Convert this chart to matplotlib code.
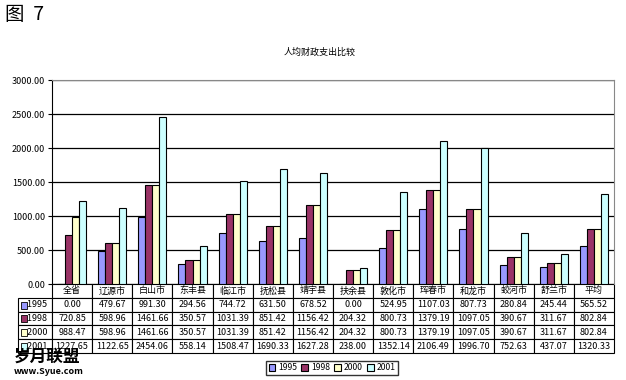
import numpy as np
import matplotlib.pyplot as plt
from matplotlib.patches import Rectangle

plt.rcParams['font.family'] = ['Noto Sans CJK SC', 'DejaVu Sans']

regions = ['全省', '辽源市', '白山市', '东丰县', '临江市', '抚松县', '靖宇县',
           '扶余县', '敦化市', '珲春市', '和龙市', '蛟河市', '舒兰市', '平均']
years = ['1995', '1998', '2000', '2001']
v1995 = [0.00, 479.67, 991.30, 294.56, 744.72, 631.50, 678.52,
         0.00, 524.95, 1107.03, 807.73, 280.84, 245.44, 565.52]
v1998 = [720.85, 598.96, 1461.66, 350.57, 1031.39, 851.42, 1156.42,
         204.32, 800.73, 1379.19, 1097.05, 390.67, 311.67, 802.84]
v2000 = [988.47, 598.96, 1461.66, 350.57, 1031.39, 851.42, 1156.42,
         204.32, 800.73, 1379.19, 1097.05, 390.67, 311.67, 802.84]
v2001 = [1227.65, 1122.65, 2454.06, 558.14, 1508.47, 1690.33, 1627.28,
         238.00, 1352.14, 2106.49, 1996.70, 752.63, 437.07, 1320.33]
series = [v1995, v1998, v2000, v2001]
colors = ['#9999FF', '#993366', '#FFFFCC', '#CCFFFF']

W, H = 626, 380
fig = plt.figure(figsize=(W / 100, H / 100), dpi=100)
ax = fig.add_axes([52 / W, 1 - 284 / H, 562 / W, 204 / H])

x = np.arange(len(regions))
bw = 0.175
for i, (vals, c) in enumerate(zip(series, colors)):
    ax.bar(x + (i - 1.5) * bw, vals, bw, color=c, edgecolor='black',
           linewidth=0.8, label=years[i], zorder=3)

ax.set_xlim(-0.5, len(regions) - 0.5)
ax.set_ylim(0, 3000)
ax.set_yticks(np.arange(0, 3001, 500))
ax.set_yticklabels([f'{t:.2f}' for t in np.arange(0, 3001, 500)], fontsize=6.5)
ax.set_xticks([])
ax.tick_params(axis='y', length=3, width=0.8, pad=2)
ax.grid(axis='y', color='black', linewidth=0.9, zorder=0)
ax.spines['top'].set_color('#888888')
ax.spines['right'].set_color('#888888')
ax.spines['left'].set_color('black')
ax.spines['bottom'].set_visible(False)

# data table under the chart (first column holds the year labels)
lab_w = 34 / 562
cell_text = [['    ' + y] + [f'{v:.2f}' for v in vals]
             for y, vals in zip(years, series)]
tbl = ax.table(cellText=cell_text, colLabels=[''] + regions,
               colWidths=[lab_w] + [1 / 14] * 14, cellLoc='center',
               bbox=[-lab_w, -69 / 204, 1 + lab_w, 69 / 204])
tbl.auto_set_font_size(False)
tbl.set_fontsize(6.5)
for (r, c), cell in tbl.get_celld().items():
    cell.set_linewidth(0.8)
    if c == 0:
        cell.PAD = 0.02
        cell._loc = 'left'
        cell.get_text().set_ha('left')
    if r == 0 and c == 0:
        cell.visible_edges = 'open'

# colour keys in the row label cells
for i, c in enumerate(colors):
    yc = 1 - (298 + 13.75 * i + 7) / H
    fig.patches.append(Rectangle((21 / W, yc - 3.5 / H), 6 / W, 7 / H,
                                 transform=fig.transFigure, facecolor=c,
                                 edgecolor='black', linewidth=0.6))

fig.legend(loc='center', bbox_to_anchor=(332 / W, 1 - 368 / H), ncol=4,
           fontsize=6.2, frameon=True, fancybox=False, edgecolor='black',
           handlelength=0.8, handleheight=0.8, handletextpad=0.3,
           columnspacing=0.5, borderpad=0.25, borderaxespad=0)

fig.text(5 / W, 1 - 14 / H, '图  7', fontsize=14, va='center', ha='left')
fig.text(320 / W, 1 - 52 / H, '人均财政支出比较', fontsize=6.5,
         va='center', ha='center')
fig.text(14 / W, 1 - 357 / H, '岁月联盟', fontsize=12, fontweight='bold',
         va='center', ha='left')
fig.text(14 / W, 1 - 372 / H, 'www.Syue.com', fontsize=6.5, fontweight='bold',
         va='center', ha='left')

fig.savefig('out.png', dpi=100)
